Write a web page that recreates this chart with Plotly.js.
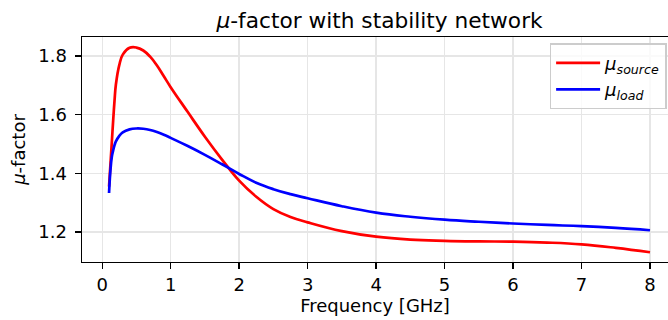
<!DOCTYPE html>
<html>
<head>
<meta charset="utf-8">
<script src="https://cdn.plot.ly/plotly-3.0.1.min.js"></script>
<style>html,body{margin:0;padding:0;background:#fff;overflow:hidden;}#chart{width:668px;height:320px;}</style>
</head>
<body>
<div id="chart"></div>
<script>
const freqGHz = [0.10,0.12,0.14,0.16,0.18,0.20,0.25,0.30,0.40,0.50,0.60,0.70,0.80,0.90,1.00,1.25,1.50,1.75,2.00,2.25,2.50,2.75,3.00,3.50,4.00,4.50,5.00,5.50,6.00,6.50,7.00,7.50,8.00];
const muSource = [1.355,1.43,1.505,1.58,1.648,1.703,1.770,1.805,1.828,1.829,1.819,1.798,1.768,1.731,1.694,1.609,1.525,1.447,1.375,1.320,1.278,1.251,1.233,1.203,1.184,1.174,1.170,1.168,1.167,1.164,1.158,1.146,1.131];
const muLoad = [1.333,1.41,1.456,1.478,1.496,1.509,1.528,1.540,1.550,1.553,1.552,1.548,1.541,1.532,1.521,1.493,1.463,1.431,1.398,1.368,1.346,1.329,1.315,1.288,1.266,1.252,1.242,1.235,1.229,1.224,1.220,1.214,1.206];
const xTicks = [0,1,2,3,4,5,6,7,8];
const yTicks = [1.2,1.4,1.6,1.8];

const font = 'DejaVu Sans, sans-serif';
const traces = [
  {x: freqGHz, y: muSource, mode: 'lines', name: '<i>μ</i><sub><i>source</i></sub>',
   line: {color: '#ff0000', width: 2.7, shape: 'spline', smoothing: 1.2}},
  {x: freqGHz, y: muLoad, mode: 'lines', name: '<i>μ</i><sub><i>load</i></sub>',
   line: {color: '#0000ff', width: 2.7, shape: 'spline', smoothing: 1.2}}
];
const layout = {
  width: 668, height: 320,
  margin: {l: 82, r: 0, t: 37, b: 58},
  paper_bgcolor: '#fff', plot_bgcolor: '#fff',
  font: {family: font, size: 18, color: '#000'},
  title: {text: '<i>μ</i>-factor with stability network', x: 0.5077, xref: 'paper', xanchor: 'center',
          y: 1, yref: 'paper', yanchor: 'bottom', pad: {b: 9}, font: {family: font, size: 21.7, color: '#000'}},
  xaxis: {range: [-0.295, 8.263], tickvals: xTicks, ticktext: xTicks.map(String),
          showline: true, mirror: true, linecolor: '#000', linewidth: 1.4,
          ticks: 'outside', ticklen: 6, tickwidth: 1.4, tickcolor: '#000',
          showgrid: true, gridcolor: '#e6e6e6', gridwidth: 1.4, zeroline: false,
          ticklabelstandoff: 0,
          title: {text: 'Frequency [GHz]', font: {family: font, size: 18}, standoff: 3}},
  yaxis: {range: [1.0977, 1.865], tickvals: yTicks, ticktext: yTicks.map(v => v.toFixed(1)),
          showline: true, mirror: false, linecolor: '#000', linewidth: 1.4,
          ticks: 'outside', ticklen: 6, tickwidth: 1.4, tickcolor: '#000',
          showgrid: true, gridcolor: '#e6e6e6', gridwidth: 1.4, zeroline: false,
          ticklabelstandoff: 4,
          title: {text: '<i>μ</i>-factor', font: {family: font, size: 18}, standoff: 8}},
  showlegend: true,
  legend: {x: 0.9978, xanchor: 'right', y: 0.972, yanchor: 'top', itemwidth: 44,
           bgcolor: 'rgba(255,255,255,0.8)', bordercolor: '#cccccc', borderwidth: 1.4,
           font: {family: font, size: 18, color: '#000'}}
};
Plotly.newPlot('chart', traces, layout, {displayModeBar: false, staticPlot: true});
</script>
</body>
</html>
